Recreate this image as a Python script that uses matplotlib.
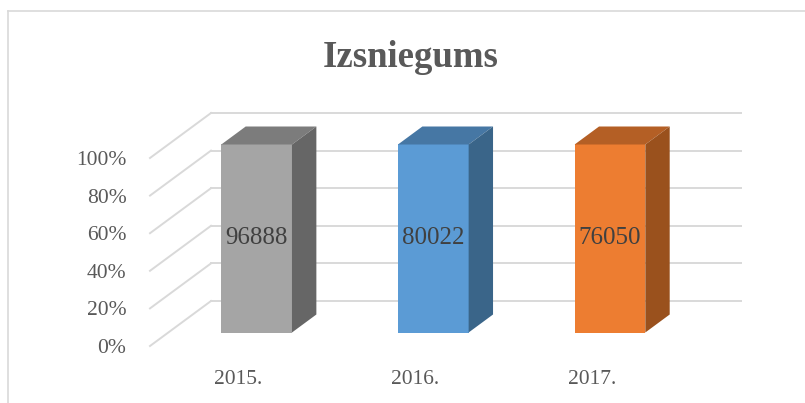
import matplotlib
matplotlib.use("Agg")
import matplotlib.pyplot as plt
from matplotlib.patches import Polygon
from matplotlib.lines import Line2D

# ---- data ----
categories = ["2015.", "2016.", "2017."]
values = [96888, 80022, 76050]
title = "Izsniegums"
yticks = [0, 20, 40, 60, 80, 100]
ytick_labels = ["0%", "20%", "40%", "60%", "80%", "100%"]

# ---- style ----
front_colors = ["#A5A5A5", "#5B9BD5", "#ED7D31"]
top_colors = ["#7C7C7C", "#4677A4", "#B45F25"]
side_colors = ["#666666", "#3A6589", "#9A511D"]
grid_color = "#D9D9D9"
text_color = "#595959"
label_color = "#404040"
FONT = "Liberation Serif"

W, H = 805, 403
fig = plt.figure(figsize=(W / 100, H / 100), dpi=100)
ax_l, ax_b, ax_w, ax_h = 150, 57, 530, 188
ax = fig.add_axes([ax_l / W, ax_b / H, ax_w / W, ax_h / H])
ax.set_xlim(-0.5, len(categories) - 0.5)
ax.set_ylim(0, 100)
for s in ax.spines.values():
    s.set_visible(False)
ax.patch.set_visible(False)

# depth (oblique projection), in pixels -> data units
DPX, DPY = 61, 45
ux = ax_w / len(categories)
uy = ax_h / 100.0
dx = DPX / ux
dy = DPY / uy

x_left, x_right = ax.get_xlim()
for yv in yticks:
    ax.add_line(Line2D([x_left, x_left + dx], [yv, yv + dy], color=grid_color,
                       lw=1.4, clip_on=False, zorder=0))
    ax.add_line(Line2D([x_left + dx, x_right + dx], [yv + dy, yv + dy],
                       color=grid_color, lw=1.4, clip_on=False, zorder=0))

# bars (100% stacked, single series)
bw = 0.4
f0, fd = 0.3, 0.4
bdx, bdy = fd * dx, fd * dy
for i, v in enumerate(values):
    share = 100.0 * v / values[i]
    x0 = i - bw / 2 + f0 * dx
    x1 = x0 + bw
    y0 = f0 * dy
    y1 = share + f0 * dy
    front = Polygon([(x0, y0), (x1, y0), (x1, y1), (x0, y1)], closed=True,
                    facecolor=front_colors[i], edgecolor="none", clip_on=False, zorder=3)
    top = Polygon([(x0, y1), (x1, y1), (x1 + bdx, y1 + bdy), (x0 + bdx, y1 + bdy)],
                  closed=True, facecolor=top_colors[i], edgecolor="none", clip_on=False, zorder=3)
    side = Polygon([(x1, y0), (x1 + bdx, y0 + bdy), (x1 + bdx, y1 + bdy), (x1, y1)],
                   closed=True, facecolor=side_colors[i], edgecolor="none", clip_on=False, zorder=3)
    for p in (front, top, side):
        ax.add_patch(p)
    ax.text((x0 + x1) / 2, (y0 + y1) / 2, f"{v}", ha="center", va="center",
            fontsize=18, family=FONT, color=label_color, zorder=4)

ax.set_yticks(yticks)
ax.set_yticklabels(ytick_labels, family=FONT, fontsize=15.5, color=text_color)
ax.set_xticks(range(len(categories)))
ax.set_xticklabels(categories, family=FONT, fontsize=15.5, color=text_color)
ax.tick_params(axis="y", length=0, pad=17)
ax.tick_params(axis="x", length=0, pad=17)

fig.text(411 / W, 1 - 67 / H, title, ha="center", va="baseline", fontsize=26.5,
         fontweight="bold", family=FONT, color=text_color)

# chart border
fig.add_artist(Line2D([8 / W, 8 / W], [0, 1 - 11 / H], color=grid_color, lw=1.2,
                      transform=fig.transFigure))
fig.add_artist(Line2D([8 / W, 1], [1 - 11 / H, 1 - 11 / H], color=grid_color, lw=1.2,
                      transform=fig.transFigure))

fig.savefig("out.png", dpi=100)
